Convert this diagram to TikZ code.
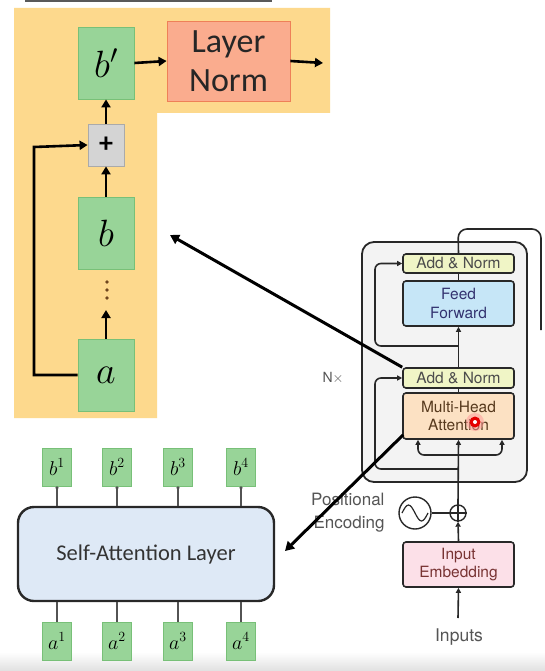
\RequirePackage{fix-cm}
\documentclass[tikz,border=0pt]{standalone}
\usepackage{fontspec}
\newfontfamily\calib{Carlito}
\newfontfamily\helv{TeX Gyre Heros}
\usetikzlibrary{arrows.meta,calc}
\definecolor{orangebg}{RGB}{253,217,141}
\definecolor{gfill}{RGB}{152,212,152}
\definecolor{gborder}{RGB}{120,192,120}
\definecolor{lnfill}{RGB}{250,172,142}
\definecolor{lnborder}{RGB}{238,128,88}
\definecolor{plusfill}{RGB}{212,212,212}
\definecolor{plusborder}{RGB}{170,170,170}
\definecolor{safill}{RGB}{222,233,246}
\definecolor{tdark}{RGB}{40,40,40}
\definecolor{outerfill}{RGB}{243,243,243}
\definecolor{anfill}{RGB}{240,245,198}
\definecolor{fffill}{RGB}{198,230,247}
\definecolor{mhafill}{RGB}{252,225,195}
\definecolor{iefill}{RGB}{252,224,232}
\definecolor{tgray}{RGB}{85,85,85}
\definecolor{dotcol}{RGB}{110,70,30}
\begin{document}
\begin{tikzpicture}[x=1pt,y=-1pt,
  gbox/.style={draw=gborder,fill=gfill,line width=0.8pt,inner sep=0pt},
  sbox/.style={gbox,minimum width=29pt,minimum height=38pt,font=\fontsize{20}{22}\selectfont},
  bigarr/.style={line width=3pt,-{Triangle[length=9pt,width=10pt]}},
  larr/.style={line width=2.6pt,-{Triangle[length=8pt,width=9pt]}},
  tline/.style={line width=1.6pt,draw=tdark},
  tarr/.style={tline,-{Triangle[length=5pt,width=5pt]}},
  tbox/.style={draw=tdark,line width=1.6pt,rounded corners=3pt,minimum width=111pt,inner sep=0pt,align=center,font=\helv\fontsize{15.5}{18.5}\selectfont},
  slink/.style={line width=1.4pt,draw=tdark!80}]
\useasboundingbox (0,0) rectangle (545,671);
\fill[white] (0,0) rectangle (545,671);
\shade[top color=white,bottom color=black!12] (0,652) rectangle (545,671);
% top bar
\draw[line width=2pt,black!65] (25,1) -- (272,1);
% orange background
\fill[orangebg] (14,8) -- (330,8) -- (330,113) -- (157,113) -- (157,418) -- (14,418) -- cycle;
% left diagram nodes
\node[gbox,minimum width=56pt,minimum height=72pt,font=\fontsize{38}{42}\selectfont] (bp) at (106,63) {$b'$};
\node[draw=lnborder,fill=lnfill,line width=0.8pt,minimum width=123pt,minimum height=80pt,align=center,inner sep=0pt,font=\calib\fontsize{34}{39}\selectfont,text=black!85] (ln) at (228.5,61) {Layer\\Norm};
\node[draw=plusborder,fill=plusfill,line width=0.8pt,minimum width=36pt,minimum height=42pt,inner sep=0pt,font=\calib\bfseries\fontsize{28}{30}\selectfont] (plus) at (106,145) {+};
\node[gbox,minimum width=56pt,minimum height=72pt,font=\fontsize{38}{42}\selectfont] (bn) at (106,233) {$b$};
\node[gbox,minimum width=56pt,minimum height=72pt,font=\fontsize{38}{42}\selectfont] (an) at (106,375) {$a$};
\fill[dotcol] (107,282) circle (1.8pt) (107,290) circle (1.8pt) (107,298) circle (1.8pt);
\coordinate (dend) at (106,310);
\coordinate (lnout) at (323,63);
\draw[larr] (bp.east) -- (ln.west);
\draw[larr] (ln.east) -- (lnout);
\draw[larr] (plus.north) -- (bp.south);
\draw[larr] (bn.north) -- (plus.south);
\draw[larr] (an.north) -- (dend);
\draw[line width=2.6pt,-{Triangle[length=8pt,width=9pt]}] (an.west) -- (34,375) -- (34,147) -- (plus.west);
% self-attention layer
\node[draw=tdark,fill=safill,line width=2.4pt,rounded corners=16pt,minimum width=256pt,minimum height=94pt,font=\calib\fontsize{22.5}{26}\selectfont,text=black!80] (sa) at (146,554) {Self-Attention Layer};
\foreach \i/\x in {1/57,2/117,3/178,4/241}{
  \node[sbox] (b\i) at (\x,467) {$b^{\i}$};
  \node[sbox] (a\i) at (\x,641) {$a^{\i}$};
  \draw[slink,-{Circle[length=3pt]}] (b\i.south |- sa.north) -- (b\i.south);
  \draw[slink] (a\i.north) -- (a\i.north |- sa.south);
}
% transformer encoder
\node[draw=tdark,fill=outerfill,line width=1.8pt,rounded corners=12pt,minimum width=165pt,minimum height=240pt,inner sep=0pt] (nx) at (444.5,362) {};
\node[tbox,fill=anfill,minimum height=19pt,text=black!70] (an2) at (458.5,263.5) {Add \& Norm};
\node[tbox,fill=fffill,minimum height=45pt,text=black!60!blue!60!gray] (ff) at (458.5,303.5) {Feed\\Forward};
\node[tbox,fill=anfill,minimum height=20pt,text=black!70] (an1) at (458.5,378) {Add \& Norm};
\node[tbox,fill=mhafill,minimum height=46pt,text=black!55!brown] (mha) at (458.5,416) {Multi-Head\\Attention};
\node[draw=tdark,fill=iefill,line width=1.6pt,rounded corners=3pt,minimum width=111pt,minimum height=45pt,inner sep=0pt,align=center,font=\helv\fontsize{15.5}{18.5}\selectfont,text=black!55!red!60!gray] (ie) at (458.5,564.5) {Input\\Embedding};
\node[draw=tdark,line width=1.4pt,circle,minimum size=16pt,inner sep=0pt] (op) at (458,513) {};
\draw[line width=1.2pt,tdark] (op.north) -- (op.south) (op.west) -- (op.east);
\node[draw=tdark,line width=1.4pt,circle,minimum size=32pt,inner sep=0pt] (sine) at (415,513) {};
\draw[line width=1.2pt,tdark] ($(sine)+(-13,0)$) sin ($(sine)+(-6.5,-8)$) cos ($(sine)+(0,0)$) sin ($(sine)+(6.5,8)$) cos ($(sine)+(13,0)$);
\node[font=\helv\fontsize{17}{23}\selectfont,text=tgray,align=right,anchor=east] (pe) at (388,513) {Positional\\Encoding};
\node[font=\helv\fontsize{17.5}{19}\selectfont,text=tgray] (inp) at (459,637) {Inputs};
\node[font=\helv\fontsize{14}{16}\selectfont,text=tgray] (nxl) at (333,378) {N$\times$};
\coordinate (inbot) at (458,618);
\draw[tarr] (inbot) -- (ie.south);
\draw[tarr] (ie.north) -- (op.south);
\draw[tline] (sine.east) -- (op.west);
\draw[tarr] (op.north) -- (mha.south);
\draw[tarr,rounded corners=6pt] (458,455) -- (418,455) -- (418,439.8);
\draw[tarr,rounded corners=6pt] (458,455) -- (502,455) -- (502,439.8);
\draw[tarr,rounded corners=6pt] (458,469) -- (375,469) -- (375,378) -- (an1.west);
\draw[tline] (mha.north) -- (an1.south);
\draw[tarr] (an1.north) -- (ff.south);
\draw[tarr,rounded corners=6pt] (458,346) -- (375,346) -- (375,263.5) -- (an2.west);
\draw[tline] (ff.north) -- (an2.south);
\draw[tline,rounded corners=9pt] (an2.north) -- (458,229) -- (541,229) -- (541,330);
% cursor
\fill[red!40,opacity=0.5] (475,422) circle (9pt);
\fill[red!90!black] (475,422) circle (5.5pt);
\fill[white] (475,422) circle (2pt);
% big arrows
\coordinate (t1) at (170,235);
\coordinate (t2) at (285,551);
\draw[bigarr] (an1.north west) -- (t1);
\draw[bigarr] ($(mha.south west)+(1,-5)$) -- (t2);
\end{tikzpicture}
\end{document}
